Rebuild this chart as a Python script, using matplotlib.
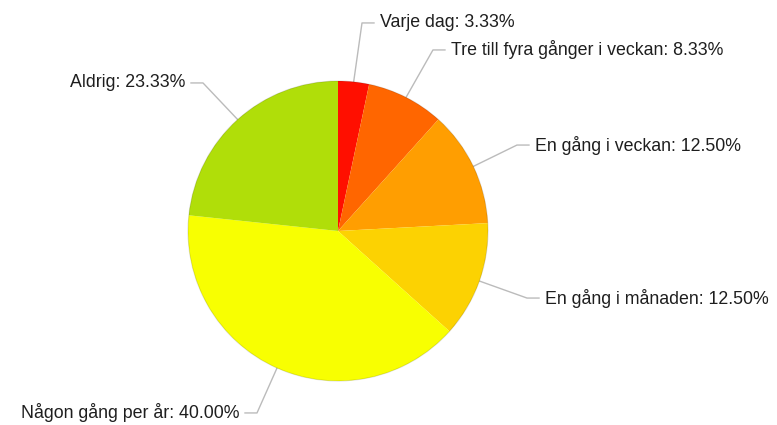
import matplotlib
matplotlib.use("Agg")
import matplotlib.pyplot as plt
import numpy as np

labels = ["Varje dag", "Tre till fyra gånger i veckan", "En gång i veckan",
          "En gång i månaden", "Någon gång per år", "Aldrig"]
values = [3.33, 8.33, 12.50, 12.50, 40.00, 23.33]
colors = ["#FF0F00", "#FF6600", "#FF9E01", "#FCD202", "#F8FF01", "#B0DE09"]

# elbow points of the label lines (pie radius = 1)
elbows = [(0.16, 1.387), (0.633, 1.207), (1.193, 0.573),
          (1.26, -0.447), (-0.54, -1.213), (-0.90, 0.987)]

plt.rcParams['font.family'] = ['Liberation Sans', 'DejaVu Sans']

fig = plt.figure(figsize=(7.77, 4.25), dpi=100)
ax = fig.add_axes([0, 0, 1, 1])

wedges, _ = ax.pie(values, colors=colors, startangle=90, counterclock=False,
                   radius=1, center=(0, 0),
                   wedgeprops=dict(linewidth=0))

# faint darker rim like the original
ax.add_patch(plt.Circle((0, 0), 1, fill=False, lw=0.8, ec="#00000020"))

ax.set_xlim(-338 / 150, (777 - 338) / 150)
ax.set_ylim(-194 / 150, (425 - 194) / 150)
ax.set_aspect("equal")
ax.axis("off")

seg = 12 / 150
gap = 6 / 150
for w, lab, val, (ex, ey) in zip(wedges, labels, values, elbows):
    ang = np.deg2rad((w.theta1 + w.theta2) / 2)
    px, py = np.cos(ang), np.sin(ang)
    side = 1 if ex > 0 else -1
    hx = ex + side * seg
    ax.plot([px, ex, hx], [py, ey, ey], color="#bbbbbb", lw=1, zorder=0)
    ax.text(hx + side * gap, ey, f"{lab}: {val:.2f}%", fontsize=12.8,
            color="#1e1e1e", ha="left" if side > 0 else "right", va="center")

fig.savefig("out.png", dpi=100)
